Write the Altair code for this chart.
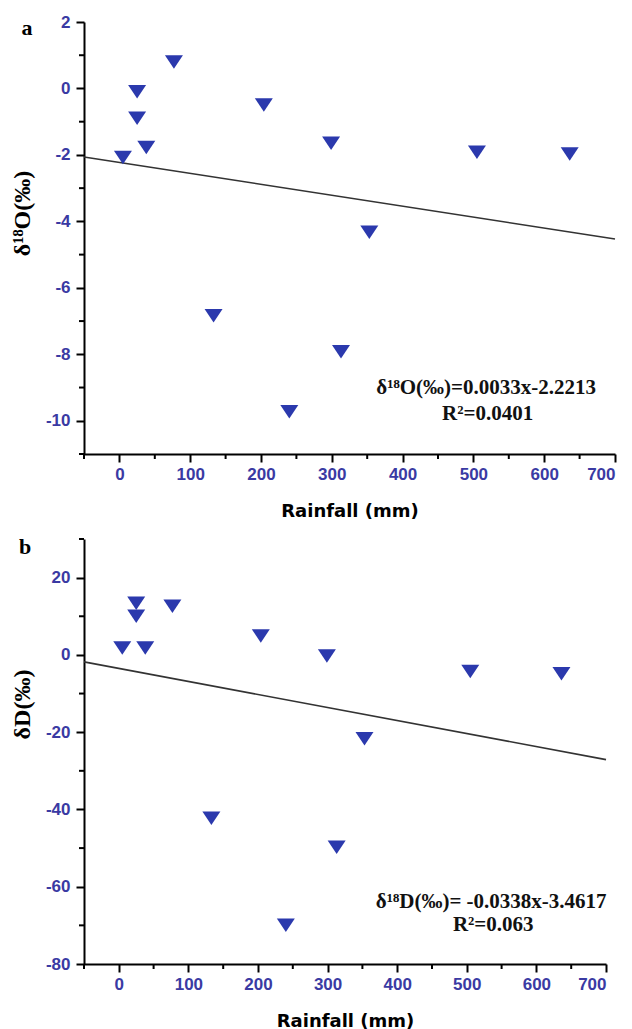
import altair as alt
import pandas as pd

# ---- data ----
rainfall = [5, 25, 25, 38, 77, 133, 204, 240, 299, 313, 353, 505, 636]
d18o = [-2.08, -0.1, -0.9, -1.78, 0.8, -6.84, -0.5, -9.73, -1.65, -7.92, -4.33, -1.92, -1.97]
dD = [1.8, 13.4, 10.0, 1.8, 12.6, -42.3, 4.9, -70.0, -0.3, -49.8, -21.7, -4.3, -4.9]

line_x = [-50, 700]
line_a = [-2.06, -4.53]
line_b = [-1.8, -27.1]

x_major = [0, 100, 200, 300, 400, 500, 600, 700]
x_minor = [-50, 50, 150, 250, 350, 450, 550, 650]
ya_major = [-10, -8, -6, -4, -2, 0, 2]
ya_minor = [-11, -9, -7, -5, -3, -1, 1]
yb_major = [-80, -60, -40, -20, 0, 20]
yb_minor = [-70, -50, -30, -10, 10, 30]

eq_a = ["δ¹⁸O(‰)=0.0033x-2.2213", "R²=0.0401"]
eq_b = ["δ¹⁸D(‰)= -0.0338x-3.4617", "R²=0.063"]

BLUE_LBL = "#3a3aa3"
MARK = "#2b39ad"
TRI = "M-1,-0.75L1,-0.75L0,0.75Z"


def panel(yvals, ydom, ymaj, ymin, width, height, ytitle, title_y, letter,
          liney, eq, eqx, eqy, letter_xy):
    xs = alt.Scale(domain=[-50, 700], nice=False, zero=False)
    ys = alt.Scale(domain=ydom, nice=False, zero=False)
    xax = alt.Axis(values=x_major, title="Rainfall (mm)", grid=False,
                   domainColor="black", domainWidth=2, tickColor="black",
                   tickWidth=2, tickSize=8, labelColor=BLUE_LBL,
                   labelFont="Liberation Sans", labelFontWeight="bold",
                   labelFontSize=17, labelPadding=4,
                   labelExpr="datum.value + ''",
                   titleFont="DejaVu Sans", titleFontWeight="bold",
                   titleFontSize=18, titleColor="black", titlePadding=20)
    yax = alt.Axis(values=ymaj, title=ytitle, grid=False,
                   domainColor="black", domainWidth=2, tickColor="black",
                   tickWidth=2, tickSize=8, labelColor=BLUE_LBL,
                   labelFont="Liberation Sans", labelFontWeight="bold",
                   labelFontSize=17, labelPadding=6,
                   labelExpr="datum.value + ''",
                   titleFont="Liberation Serif", titleFontWeight="bold",
                   titleFontSize=24, titleColor="black",
                   titleX=-50, titleY=title_y)
    df = pd.DataFrame({"x": rainfall, "y": yvals})
    pts = alt.Chart(df).mark_point(shape=TRI, filled=True, size=324,
                                   color=MARK, opacity=1).encode(
        x=alt.X("x:Q", scale=xs, axis=xax),
        y=alt.Y("y:Q", scale=ys, axis=yax),
    )
    ldf = pd.DataFrame({"x": line_x, "y": liney})
    ln = alt.Chart(ldf).mark_line(color="#333333", strokeWidth=1.6).encode(
        x=alt.X("x:Q", scale=xs), y=alt.Y("y:Q", scale=ys))
    # minor ticks
    ymdf = pd.DataFrame({"v": ymin})
    ymt = alt.Chart(ymdf).mark_rule(color="black", strokeWidth=2).encode(
        y=alt.Y("v:Q", scale=ys), x=alt.value(-5), x2=alt.value(0))
    xmdf = pd.DataFrame({"v": x_minor})
    xmt = alt.Chart(xmdf).mark_rule(color="black", strokeWidth=2).encode(
        x=alt.X("v:Q", scale=xs), y=alt.value(height), y2=alt.value(height + 5))
    edf = pd.DataFrame({"t": eq, "x": eqx, "y": eqy})
    eqt = alt.Chart(edf).mark_text(font="Liberation Serif", fontWeight="bold",
                                   fontSize=21, color="#111111",
                                   align="center", baseline="middle").encode(
        x=alt.X("x:Q", scale=xs), y=alt.Y("y:Q", scale=ys), text="t:N")
    let = alt.Chart(pd.DataFrame({"t": [letter]})).mark_text(
        font="Liberation Serif", fontWeight="bold", fontSize=22,
        color="black", align="center", baseline="middle").encode(
        x=alt.value(letter_xy[0]), y=alt.value(letter_xy[1]), text="t:N")
    return alt.layer(ln, pts, ymt, xmt, eqt, let).properties(
        width=width, height=height)


top = panel(d18o, [-11, 2], ya_major, ya_minor, 531, 432, "δ¹⁸O(‰)", 191,
            "a", line_a, eq_a, [518, 520], [-9.0, -9.8], (-57, 6))
bottom = panel(dD, [-80, 30], yb_major, yb_minor, 522, 425, "δD(‰)", 165,
               "b", line_b, eq_b, [535, 538], [-64.0, -69.9], (-59, 8))

chart = alt.vconcat(top, bottom, spacing=16).configure_view(
    stroke=None).properties(padding={"left": 2, "top": 5, "right": 5, "bottom": 5})
chart.save("out.html", embed_options={"renderer": "svg", "actions": False})
